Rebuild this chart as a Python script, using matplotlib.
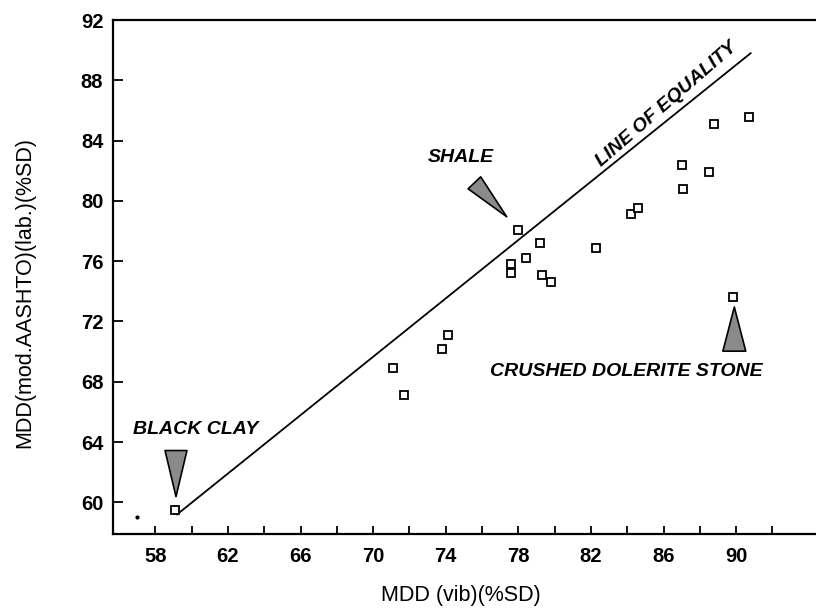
import matplotlib
matplotlib.use("Agg")
import matplotlib.pyplot as plt

# Donnees
mdd_vib = [59.1, 71.1, 71.7, 73.8, 74.1, 77.6, 77.6, 78.0, 78.4, 79.2, 79.3, 79.8,
           82.3, 84.2, 84.6, 87.0, 87.1, 88.5, 88.8, 89.8, 90.7]
mdd_lab = [59.5, 68.9, 67.1, 70.2, 71.1, 75.8, 75.2, 78.1, 76.2, 77.2, 75.1, 74.6,
           76.9, 79.1, 79.5, 82.4, 80.8, 81.9, 85.1, 73.6, 85.6]
# petit point isole en bas a gauche
speck_x = [57.0]
speck_y = [59.05]
# ligne d'egalite (extremites lues)
equality_x = [59.2, 90.8]
equality_y = [59.2, 89.8]

x_major = [58, 62, 66, 70, 74, 78, 82, 86, 90]
x_minor = [60, 64, 68, 72, 76, 80, 84, 88, 92]
y_ticks = [60, 64, 68, 72, 76, 80, 84, 88, 92]

plt.rcParams['font.family'] = ['Liberation Sans', 'DejaVu Sans']

fig = plt.figure(figsize=(8.16, 6.11), dpi=100)
ax = fig.add_axes([0.1385, 0.126, 0.8615, 0.8412])

ax.plot(equality_x, equality_y, color='black', lw=1.3)
ax.plot(mdd_vib, mdd_lab, linestyle='none', marker='s', markersize=6,
        markerfacecolor='white', markeredgecolor='black', markeredgewidth=1.3)
ax.plot(speck_x, speck_y, linestyle='none', marker='o', markersize=2, color='black')

ax.set_xlim(55.67, 94.4)
ax.set_ylim(57.9, 92)

ax.set_xticks(x_major)
ax.set_xticks(x_minor, minor=True)
ax.set_yticks(y_ticks)
ax.tick_params(axis='x', which='both', direction='in', length=6, width=1.3, pad=9,
               labelsize=14.5)
ax.tick_params(axis='y', direction='in', length=7, width=1.3, pad=7, labelsize=14.5)
for lab in ax.get_xticklabels() + ax.get_yticklabels():
    lab.set_fontweight('bold')

for side in ['left', 'bottom', 'top']:
    ax.spines[side].set_linewidth(1.6)
ax.spines['right'].set_visible(False)

ax.set_xlabel("MDD (vib)(%SD)", fontsize=15.5)
ax.xaxis.set_label_coords(0.495, -0.099)
ax.set_ylabel("MDD(mod.AASHTO)(lab.)(%SD)", fontsize=15.5)
ax.yaxis.set_label_coords(-0.111, 0.47)

# Annotations
txt_kw = dict(fontsize=14, fontweight='bold', fontstyle='italic', ha='center', va='center')
ax.text(60.24, 64.84, "BLACK CLAY", **txt_kw)
ax.text(74.84, 82.85, "SHALE", **txt_kw)
ax.text(83.97, 68.7, "CRUSHED DOLERITE STONE", **txt_kw)
ax.text(86.18, 86.41, "LINE OF EQUALITY", rotation=41, rotation_mode='anchor', **txt_kw)


def wedge(tip, base, width):
    ax.annotate('', xy=tip, xytext=base,
                arrowprops=dict(arrowstyle=f'wedge,tail_width={width / 10:.2f},shrink_factor=0.5',
                                mutation_scale=10, fc='#8a8a8a', ec='black', lw=1.2,
                                shrinkA=0, shrinkB=0))


wedge((59.14, 60.38), (59.14, 63.44), 15.8)
wedge((77.36, 78.95), (75.58, 81.2), 12.5)
wedge((89.9, 72.96), (89.9, 70.03), 16.5)

fig.savefig("out.png", dpi=100)
